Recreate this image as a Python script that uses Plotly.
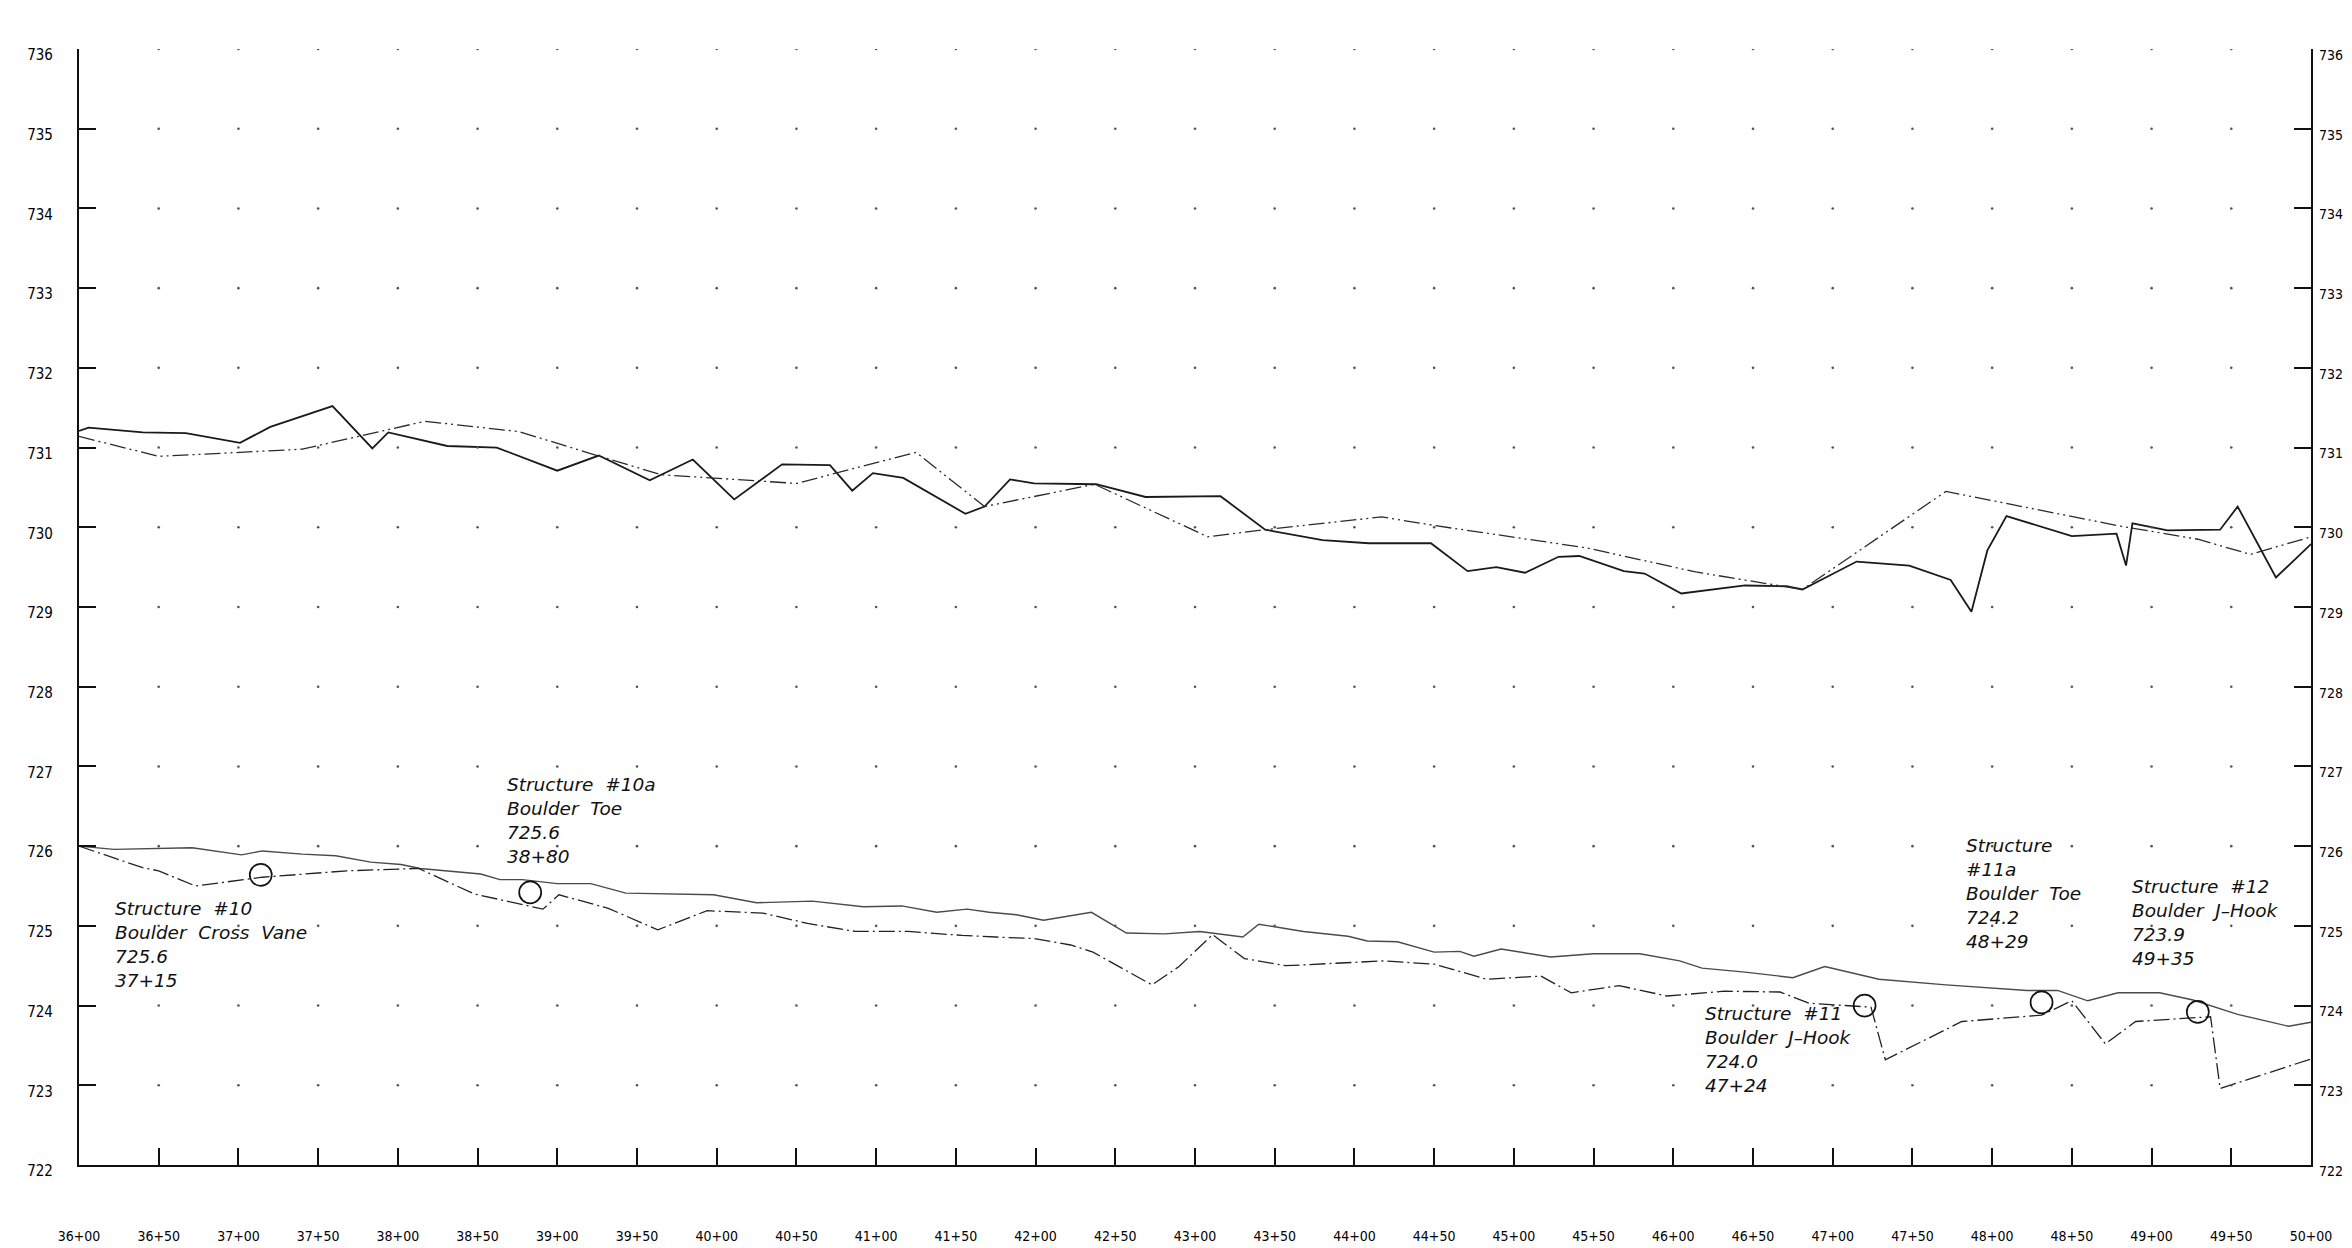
import numpy as np
import plotly.graph_objects as go

# ---------------- data ----------------
# station (ft) / elevation (ft)
top_solid_sta = [3600, 3606, 3640, 3667, 3701, 3720, 3759, 3784, 3794, 3831, 3862, 3900, 3926, 3958,
                 3985, 4011, 4041, 4071, 4085, 4098, 4117, 4156, 4168, 4184, 4199, 4238, 4269, 4316,
                 4344, 4380, 4409, 4448, 4471, 4489, 4507, 4528, 4541, 4569, 4582, 4605, 4645, 4671,
                 4681, 4715, 4748, 4774, 4787, 4797, 4809, 4850, 4878, 4884, 4888, 4910, 4943, 4954,
                 4978, 5000]
top_solid_elev = [731.21, 731.25, 731.19, 731.18, 731.06, 731.26, 731.52, 730.99, 731.19, 731.02,
                  731.00, 730.71, 730.90, 730.59, 730.85, 730.35, 730.79, 730.78, 730.46, 730.68,
                  730.62, 730.17, 730.26, 730.60, 730.55, 730.54, 730.38, 730.39, 729.97, 729.84,
                  729.80, 729.80, 729.45, 729.50, 729.43, 729.63, 729.64, 729.45, 729.42, 729.17,
                  729.27, 729.26, 729.22, 729.57, 729.52, 729.34, 728.94, 729.71, 730.14, 729.89,
                  729.92, 729.52, 730.05, 729.96, 729.97, 730.26, 729.37, 729.79]

top_dashdot_sta = [3600, 3650, 3701, 3740, 3817, 3876, 3925, 3965, 4050, 4085, 4125, 4168, 4237,
                   4308, 4344, 4417, 4451, 4546, 4614, 4681, 4771, 4879, 4929, 4962, 5000]
top_dashdot_elev = [731.14, 730.89, 730.94, 730.98, 731.33, 731.20, 730.90, 730.66, 730.55, 730.73,
                    730.94, 730.26, 730.54, 729.88, 729.97, 730.13, 730.02, 729.74, 729.44, 729.22,
                    730.45, 730.02, 729.85, 729.66, 729.88]

low_solid_sta = [3600, 3622, 3671, 3702, 3715, 3740, 3761, 3783, 3802, 3814, 3852, 3864, 3878, 3900,
                 3921, 3943, 3998, 4025, 4060, 4092, 4116, 4138, 4157, 4171, 4188, 4205, 4235, 4257,
                 4281, 4303, 4330, 4340, 4368, 4396, 4408, 4427, 4450, 4466, 4475, 4492, 4523, 4550,
                 4579, 4604, 4618, 4645, 4675, 4695, 4729, 4771, 4822, 4841, 4860, 4879, 4905, 4926,
                 4954, 4986, 5000]
low_solid_elev = [726.00, 725.96, 725.98, 725.89, 725.94, 725.90, 725.88, 725.80, 725.77, 725.72,
                  725.65, 725.58, 725.58, 725.53, 725.53, 725.41, 725.39, 725.29, 725.31, 725.24,
                  725.25, 725.17, 725.21, 725.17, 725.14, 725.07, 725.17, 724.91, 724.90, 724.93,
                  724.86, 725.02, 724.93, 724.87, 724.81, 724.80, 724.67, 724.68, 724.62, 724.71,
                  724.61, 724.65, 724.65, 724.56, 724.47, 724.42, 724.35, 724.49, 724.33, 724.26,
                  724.19, 724.19, 724.06, 724.16, 724.16, 724.07, 723.89, 723.74, 723.79]

low_dashdot_sta = [3600, 3640, 3650, 3673, 3715, 3768, 3813, 3848, 3891, 3901, 3932, 3963, 3994,
                   4029, 4057, 4087, 4120, 4154, 4175, 4199, 4222, 4236, 4273, 4290, 4311, 4331,
                   4357, 4387, 4418, 4450, 4483, 4517, 4536, 4566, 4596, 4632, 4667, 4685, 4724,
                   4733, 4781, 4831, 4850, 4871, 4890, 4937, 4943, 5000]
low_dashdot_elev = [726.00, 725.73, 725.69, 725.50, 725.61, 725.69, 725.72, 725.40, 725.21, 725.39,
                    725.22, 724.95, 725.19, 725.16, 725.03, 724.93, 724.93, 724.88, 724.86, 724.84,
                    724.76, 724.67, 724.26, 724.49, 724.89, 724.59, 724.50, 724.53, 724.56, 724.52,
                    724.33, 724.37, 724.16, 724.25, 724.12, 724.18, 724.17, 724.03, 723.98, 723.32,
                    723.80, 723.88, 724.06, 723.52, 723.80, 723.86, 722.96, 723.33]

# structures (circle markers)
struct_sta = [3714, 3883, 4720, 4831, 4929]
struct_elev = [725.64, 725.42, 724.00, 724.04, 723.92]
struct_labels = [
    "Structure  #10<br>Boulder  Cross  Vane<br>725.6<br>37+15",
    "Structure  #10a<br>Boulder  Toe<br>725.6<br>38+80",
    "Structure  #11<br>Boulder  J\u2013Hook<br>724.0<br>47+24",
    "Structure<br>#11a<br>Boulder  Toe<br>724.2<br>48+29",
    "Structure  #12<br>Boulder  J\u2013Hook<br>723.9<br>49+35",
]

x_tickvals = list(range(3600, 5001, 50))
x_ticktext = ["36+00", "36+50", "37+00", "37+50", "38+00", "38+50", "39+00", "39+50", "40+00",
              "40+50", "41+00", "41+50", "42+00", "42+50", "43+00", "43+50", "44+00", "44+50",
              "45+00", "45+50", "46+00", "46+50", "47+00", "47+50", "48+00", "48+50", "49+00",
              "49+50", "50+00"]
y_tickvals = list(range(722, 737))

# ---------------- figure ----------------
fig = go.Figure()

# grid dots at every 50 ft station / 1 ft elevation intersection
gx, gy = np.meshgrid(x_tickvals[1:-1], y_tickvals[1:])
fig.add_trace(go.Scatter(x=gx.ravel(), y=gy.ravel(), mode="markers", yaxis="y2",
                         marker=dict(size=2.6, color="#555555"), hoverinfo="skip",
                         showlegend=False))

fig.add_trace(go.Scatter(x=top_solid_sta, y=top_solid_elev, mode="lines",
                         line=dict(color="#1a1a1a", width=1.8), showlegend=False))
fig.add_trace(go.Scatter(x=top_dashdot_sta, y=top_dashdot_elev, mode="lines",
                         line=dict(color="#2a2a2a", width=1.3, dash="16px,4px,2px,4px,2px,4px"),
                         showlegend=False))
fig.add_trace(go.Scatter(x=low_solid_sta, y=low_solid_elev, mode="lines",
                         line=dict(color="#4a4a4a", width=1.4), showlegend=False))
fig.add_trace(go.Scatter(x=low_dashdot_sta, y=low_dashdot_elev, mode="lines",
                         line=dict(color="#222222", width=1.3, dash="16px,4px,2px,4px"),
                         showlegend=False))
fig.add_trace(go.Scatter(x=struct_sta, y=struct_elev, mode="markers",
                         marker=dict(symbol="circle-open", size=22, color="#111111",
                                     line=dict(width=1.7, color="#111111")),
                         showlegend=False))

# annotation anchor positions (left edge, vertical middle of text block)
ann_pos = [(3622, 724.77), (3868, 726.32), (4619, 723.45), (4783, 725.40), (4887, 725.04)]
text_font = dict(family="DejaVu Sans, Liberation Sans, sans-serif", size=18.5, color="#111111",
                 style="italic")
for (ax_, ay_), txt in zip(ann_pos, struct_labels):
    fig.add_annotation(x=ax_, y=ay_, text=txt, showarrow=False, xanchor="left", yanchor="middle",
                       align="left", font=text_font, borderpad=0)

tick_font = dict(family="DejaVu Sans Condensed, Liberation Sans Narrow, DejaVu Sans, sans-serif",
                 size=14, color="#000000")

fig.update_layout(
    width=2352, height=1248,
    margin=dict(l=71, r=49, t=41, b=91),
    paper_bgcolor="white", plot_bgcolor="white",
    xaxis=dict(range=[3600, 5000], tickvals=x_tickvals, ticktext=x_ticktext,
               ticks="inside", ticklen=17, tickwidth=2, tickcolor="#111111",
               showline=True, linewidth=2.2, linecolor="#111111", showgrid=False,
               zeroline=False, tickfont=tick_font, ticklabelstandoff=57),
    yaxis=dict(range=[722, 736], tickvals=y_tickvals, ticks="inside", ticklen=17, tickwidth=2,
               tickcolor="#111111", showline=True, linewidth=2.2, linecolor="#111111",
               showgrid=False, zeroline=False, tickfont=dict(tick_font, size=15),
               ticklabelstandoff=21, ticklabelshift=6),
    yaxis2=dict(range=[722, 736], tickvals=y_tickvals, overlaying="y", side="right",
                ticks="inside", ticklen=17, tickwidth=2, tickcolor="#111111",
                showline=True, linewidth=2.2, linecolor="#111111", showgrid=False,
                zeroline=False, tickfont=dict(tick_font, size=14), ticklabelstandoff=3,
                ticklabelshift=6),
)

fig.write_html("out.html")
